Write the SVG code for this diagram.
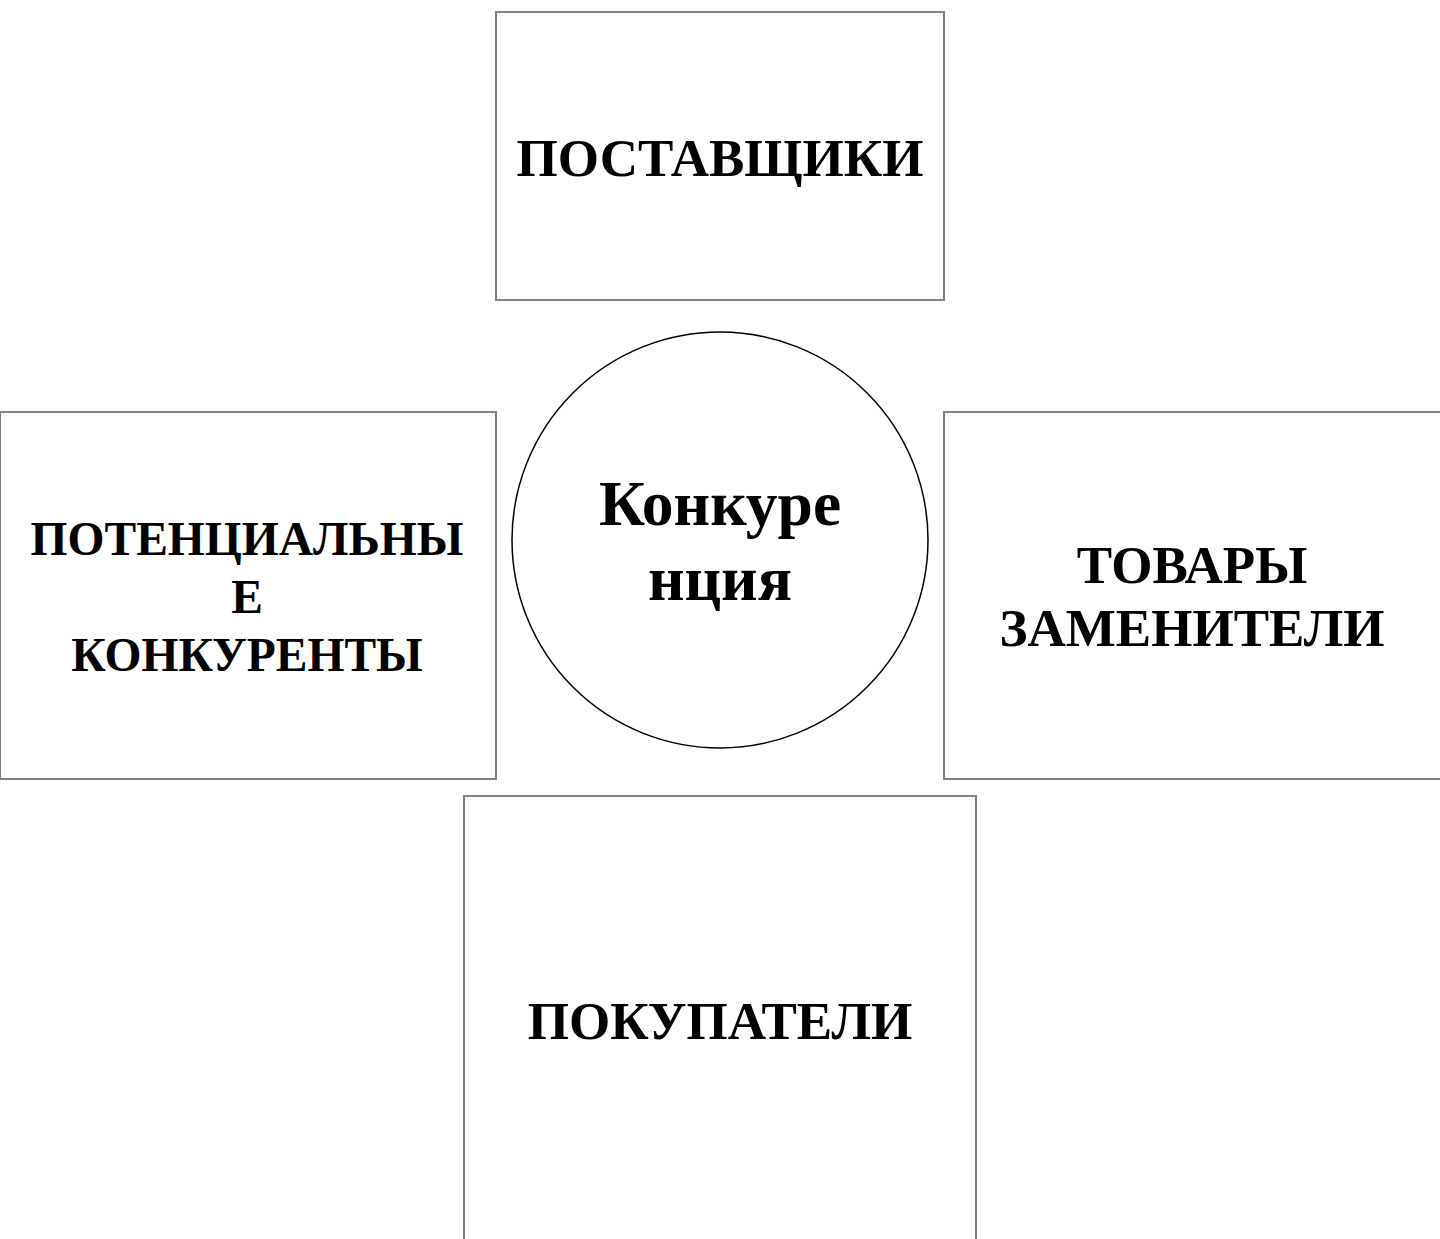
<svg xmlns="http://www.w3.org/2000/svg" width="1440" height="1239" viewBox="0 0 1440 1239">
<style>
.box{fill:#fff;stroke:#808080;stroke-width:2}
.circ{fill:#fff;stroke:#000;stroke-width:1.5}
.t{font-family:"Liberation Serif","Times New Roman",serif;font-weight:bold;font-size:53px;fill:#000;text-anchor:middle}
.tl{font-size:47.5px}
.tc{font-size:63.5px}
</style>
<rect width="1440" height="1239" fill="#fff"/>
<g id="connectors"></g>
<g id="suppliers">
<rect class="box" x="496" y="12" width="448" height="288"/>
<text class="t" x="720" y="176">ПОСТАВЩИКИ</text>
</g>
<g id="potential">
<rect class="box" x="0" y="412" width="496" height="367"/>
<text class="t tl" x="247" y="555">ПОТЕНЦИАЛЬНЫ</text>
<text class="t tl" x="247" y="613">Е</text>
<text class="t tl" x="247" y="671">КОНКУРЕНТЫ</text>
</g>
<g id="substitutes">
<rect class="box" x="944" y="412" width="497" height="367"/>
<text class="t" x="1192" y="583">ТОВАРЫ</text>
<text class="t" x="1192" y="646">ЗАМЕНИТЕЛИ</text>
</g>
<g id="buyers">
<rect class="box" x="464" y="796" width="512" height="460"/>
<text class="t" x="720" y="1039">ПОКУПАТЕЛИ</text>
</g>
<g id="competition">
<circle class="circ" cx="720" cy="540" r="208"/>
<text class="t tc" x="720" y="525">Конкуре</text>
<text class="t tc" x="720" y="600">нция</text>
</g>
</svg>
